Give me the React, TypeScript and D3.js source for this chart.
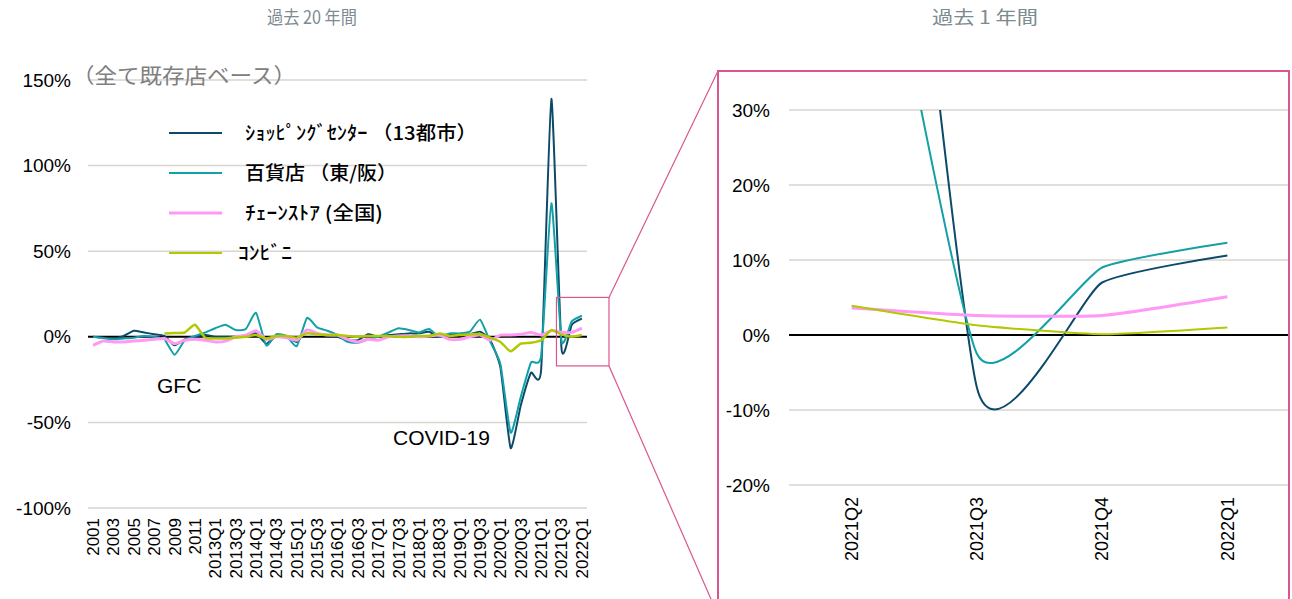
import React from 'react';
import * as d3 from 'd3';

const categories = [
  '2001','2002','2003','2004','2005','2006','2007','2008','2009','2010','2011','2012',
  '2013Q1','2013Q2','2013Q3','2013Q4','2014Q1','2014Q2','2014Q3','2014Q4',
  '2015Q1','2015Q2','2015Q3','2015Q4','2016Q1','2016Q2','2016Q3','2016Q4',
  '2017Q1','2017Q2','2017Q3','2017Q4','2018Q1','2018Q2','2018Q3','2018Q4',
  '2019Q1','2019Q2','2019Q3','2019Q4','2020Q1','2020Q2','2020Q3','2020Q4',
  '2021Q1','2021Q2','2021Q3','2021Q4','2022Q1',
];

// ショッピングセンター (13都市)
const shopping = [
  0, -0.5, -1, 0.5, 3.5, 2.5, 1.5, 0.5, -5, -1.5, 0, 1,
  0, 0, 0, 0.5, 2, -4, 0.5, 0,
  -3, 4, 2, 1, 0, -2, -2, 1.5,
  0, 1, 1.5, 2, 2, 3, 0, 1.5,
  1.5, 1.5, 3, -2, -18, -65, -40, -21,
  -19, 139, -7, 7, 10.6,
];
// 百貨店 (東/阪)
const dept = [
  0, -0.7, -1.5, -1, -0.5, 0.5, 0, -1.5, -10.5, -2, 0.5, 2.5,
  5, 7, 4, 4.5, 14, -5, 1.5, 0.5,
  -5.5, 11, 5.5, 3.5, 1, -3, -3.5, -1.5,
  0, 2.5, 5, 4, 2.5, 4.5, 0, 2,
  2, 3, 10, -3, -16, -56, -35, -15,
  -11, 78, -2.5, 9, 12.3,
];
// チェーンストア (全国)
const chain = [
  -5, -2.5, -3, -3, -2.5, -2, -1.5, -1, -4, -2, -1.5, -2,
  -3, -2.5, 0, 1, 3.5, -1.5, 0, -0.5,
  -2, 4, 2, 1, 1, -1.5, -3, -1.5,
  -2, 0, 0.5, 0.5, 0, 0.5, 1, -1.5,
  -1.5, 0, 1, -2, 1, 1, 1.5, 2.5,
  1, 3.6, 2.6, 2.6, 5.1,
];
// コンビニ
const conv: (number | null)[] = [
  null, null, null, null, null, null, null, 2, 2.2, 2.5, 7, -0.5,
  -1, -1, -0.5, 0, 1, -1, 0.5, 0.5,
  -0.5, 2, 1.5, 1, 1, 0.5, 0, 0.5,
  0.5, 0.5, 0, 0, 0.5, 0.5, 2, 0.5,
  1, 1.5, 1.5, -0.5, -3, -8.5, -4, -3.5,
  -2, 3.9, 1.3, 0.1, 1.0,
];

const zoomCategories = ['2021Q2', '2021Q3', '2021Q4', '2022Q1'];
const zoomShopping = [139, -7, 7, 10.6];
const zoomDept = [78, -2.5, 9, 12.3];
const zoomChain = [3.6, 2.6, 2.6, 5.1];
const zoomConv = [3.9, 1.3, 0.1, 1.0];

const leftTicks = [150, 100, 50, 0, -50, -100];
const rightTicks = [30, 20, 10, 0, -10, -20];

const seriesNames = ['ｼｮｯﾋﾟﾝｸﾞｾﾝﾀｰ （13都市）', '百貨店 （東/阪）', 'ﾁｪｰﾝｽﾄｱ (全国)', 'ｺﾝﾋﾞﾆ'];
const legendLengths = [232, 152, 138, 54];
const seriesColors = ['#0c4a6a', '#13a0a6', '#ff99f5', '#b2c800'];
const seriesWidths = [2, 2, 3, 2.5];

const leftTitle = '過去 20 年間';
const rightTitle = '過去 1 年間';
const baseNote = '（全て既存店ベース）';

const W = 1292;
const H = 599;
const NUM_FONT = "'Liberation Sans', Arial, sans-serif";
const JP_FONT = "'Noto Sans CJK JP', 'Noto Sans', sans-serif";
const GRID = '#d9d5cf';
const PINK = '#d9568f';
const TITLE = '#7b8b90';

export default function App() {
  const xL = d3.scaleBand<string>().domain(categories).range([88, 587]).padding(0);
  const bwL = xL.bandwidth();
  const yL = d3.scaleLinear().domain([-100, 150]).range([508, 80]);

  const xR = d3.scaleBand<string>().domain(zoomCategories).range([789, 1290]).padding(0);
  const bwR = xR.bandwidth();
  const yR = d3.scaleLinear().domain([-20, 30]).range([485, 110]);

  const curve = d3.curveCardinal.tension(0.5);

  const lineL = d3
    .line<number | null>()
    .defined((d) => d != null)
    .x((_, i) => (xL(categories[i]) as number) + bwL / 2)
    .y((d) => yL(d as number))
    .curve(curve);

  const lineR = d3
    .line<number>()
    .x((_, i) => (xR(zoomCategories[i]) as number) + bwR / 2)
    .y((d) => yR(d))
    .curve(curve);

  const leftSeries = [shopping, dept, chain, conv];
  const rightSeries = [zoomShopping, zoomDept, zoomChain, zoomConv];

  const bx0 = (xL('2021Q2') as number) + bwL;
  const bx1 = 609;
  const by0 = yL(23);
  const by1 = yL(-17);
  const fx0 = 718;
  const fx1 = 1289;
  const fy0 = 71;
  const fy1 = 615;

  return (
    <svg
      width={W}
      height={H}
      viewBox={`0 0 ${W} ${H}`}
      style={{ position: 'absolute', left: 0, top: 0, background: '#fff' }}
    >
      <defs>
        <clipPath id="rclip">
          <rect x={789} y={yR(30)} width={501} height={yR(-20) - yR(30)} />
        </clipPath>
      </defs>

      <text x={312} y={24} textAnchor="middle" fontFamily={JP_FONT} fontSize={18} fill={TITLE} textLength={90} lengthAdjust="spacingAndGlyphs">
        {leftTitle}
      </text>
      <text x={985} y={24} textAnchor="middle" fontFamily={JP_FONT} fontSize={18} fill={TITLE} textLength={106} lengthAdjust="spacingAndGlyphs">
        {rightTitle}
      </text>

      {leftTicks.filter((t) => t !== 0).map((t) => (
        <line key={t} x1={88} x2={587} y1={yL(t)} y2={yL(t)} stroke={GRID} strokeWidth={1.5} />
      ))}
      {leftTicks.map((t) => (
        <text
          key={'l' + t}
          x={71}
          y={yL(t)}
          dy="0.35em"
          textAnchor="end"
          fontFamily={NUM_FONT}
          fontSize={19}
          fill="#000"
        >
          {t}%
        </text>
      ))}
      <text
        x={72}
        y={yL(150)}
        dy="0.15em"
        fontFamily={JP_FONT}
        fontSize={21}
        fill="#808080"
        textLength={224}
        lengthAdjust="spacingAndGlyphs"
      >
        {baseNote}
      </text>
      <line x1={88} x2={587} y1={yL(0)} y2={yL(0)} stroke="#000" strokeWidth={2} />

      {categories.map((c, i) =>
        i % 2 === 0 ? (
          <text
            key={c}
            transform={`translate(${(xL(c) as number) + bwL / 2},518) rotate(-90)`}
            textAnchor="end"
            dy="0.35em"
            fontFamily={NUM_FONT}
            fontSize={17}
            fill="#000"
          >
            {c}
          </text>
        ) : null
      )}

      {leftSeries.map((s, k) => (
        <path
          key={k}
          d={lineL(s as (number | null)[]) || ''}
          fill="none"
          stroke={seriesColors[k]}
          strokeWidth={seriesWidths[k]}
          strokeLinejoin="round"
        />
      ))}

      <text x={157} y={393} fontFamily={NUM_FONT} fontSize={21} fill="#000">GFC</text>
      <text x={393} y={445} fontFamily={NUM_FONT} fontSize={21} fill="#000">COVID-19</text>

      {seriesNames.map((n, k) => {
        const y = 133 + k * 40;
        return (
          <g key={n}>
            <line x1={169} x2={222} y1={y} y2={y} stroke={seriesColors[k]} strokeWidth={k === 2 ? 3 : 2} />
            <text
              x={k === 3 ? 238 : 245}
              y={y}
              dy="0.35em"
              fontFamily={JP_FONT}
              fontSize={19}
              fontWeight={500}
              fill="#000"
              textLength={legendLengths[k]}
              lengthAdjust="spacingAndGlyphs"
            >
              {n}
            </text>
          </g>
        );
      })}

      <rect x={bx0} y={by0} width={bx1 - bx0} height={by1 - by0} fill="none" stroke={PINK} strokeWidth={1.2} />
      <line x1={bx1} y1={by0} x2={fx0} y2={fy0} stroke={PINK} strokeWidth={1.2} />
      <line x1={bx1} y1={by1} x2={fx0} y2={fy1} stroke={PINK} strokeWidth={1.2} />

      {rightTicks.filter((t) => t !== 0).map((t) => (
        <line key={'r' + t} x1={789} x2={1290} y1={yR(t)} y2={yR(t)} stroke={GRID} strokeWidth={1.5} />
      ))}
      {rightTicks.map((t) => (
        <text
          key={'rl' + t}
          x={770}
          y={yR(t)}
          dy="0.35em"
          textAnchor="end"
          fontFamily={NUM_FONT}
          fontSize={19}
          fill="#000"
        >
          {t}%
        </text>
      ))}
      <line x1={789} x2={1290} y1={yR(0)} y2={yR(0)} stroke="#000" strokeWidth={2} />
      {zoomCategories.map((c) => (
        <text
          key={c}
          transform={`translate(${(xR(c) as number) + bwR / 2},497) rotate(-90)`}
          textAnchor="end"
          dy="0.35em"
          fontFamily={NUM_FONT}
          fontSize={18}
          fill="#000"
        >
          {c}
        </text>
      ))}
      <g clipPath="url(#rclip)">
        {rightSeries.map((s, k) => (
          <path
            key={k}
            d={lineR(s) || ''}
            fill="none"
            stroke={seriesColors[k]}
            strokeWidth={k === 2 ? 3 : 2}
            strokeLinejoin="round"
          />
        ))}
      </g>

      <rect x={fx0} y={fy0} width={fx1 - fx0} height={fy1 - fy0} fill="none" stroke={PINK} strokeWidth={2} />
    </svg>
  );
}
